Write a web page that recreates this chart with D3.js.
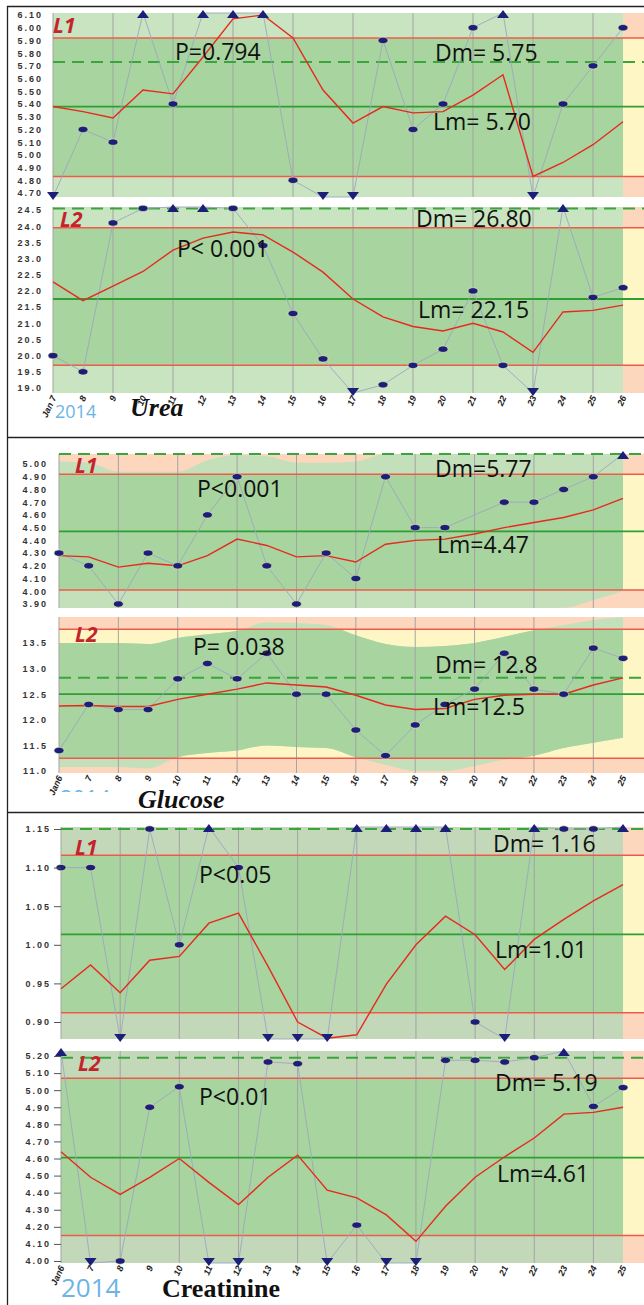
<!DOCTYPE html>
<html>
<head>
<meta charset="utf-8">
<script src="https://cdn.jsdelivr.net/npm/d3@7"></script>
<style>
  body { margin: 0; background: #fff; }
  svg { display: block; }
</style>
</head>
<body>
<div id="chart"></div>
<script>
// ---- data ----
var ureaDays = ['Jan 7', '8', '9', '10', '11', '12', '13', '14', '15', '16',
  '17', '18', '19', '20', '21', '22', '23', '24', '25', '26'];
var glucoseDays = ['Jan6', '7', '8', '9', '10', '11', '12', '13', '14', '15',
  '16', '17', '18', '19', '20', '21', '22', '23', '24', '25'];
var creatDays = glucoseDays.slice();

// Urea L1
var ureaL1Ticks = [6.10, 6.00, 5.90, 5.80, 5.70, 5.60, 5.50, 5.40, 5.30, 5.20, 5.10, 5.00, 4.90, 4.80, 4.70];
var ureaL1Values = [4.6, 5.20, 5.10, 6.3, 5.40, 6.3, 6.3, 6.3, 4.80, 4.6,
  4.6, 5.90, 5.20, 5.40, 6.00, 6.3, 4.6, 5.40, 5.70, 6.00];
var ureaL1Mean = [5.38, 5.34, 5.29, 5.51, 5.48, 5.77, 6.07, 6.10, 5.92, 5.51,
  5.25, 5.38, 5.33, 5.34, 5.47, 5.63, 4.83, 4.94, 5.08, 5.26];
var ureaL1Limits = [5.92, 4.83];
var ureaL1Lines = [5.73, 5.38];   // dashed, solid

// Urea L2
var ureaL2Ticks = [24.5, 24.0, 23.5, 23.0, 22.5, 22.0, 21.5, 21.0, 20.5, 20.0, 19.5, 19.0];
var ureaL2Values = [20.0, 19.5, 24.1, 24.55, 25.0, 25.0, 24.55, 23.4, 21.3, 19.9,
  18.7, 19.1, 19.7, 20.2, 22.0, 19.7, 18.7, 25.0, 21.8, 22.1];
var ureaL2Mean = [22.28, 21.7, 22.15, 22.6, 23.26, 23.63, 23.82, 23.73, 23.2, 22.58,
  21.75, 21.2, 20.9, 20.76, 21.0, 20.73, 20.1, 21.35, 21.4, 21.56];
var ureaL2Limits = [23.95, 19.7];
var ureaL2Lines = [24.55, 21.75];

// Glucose L1
var glucL1Ticks = [5.00, 4.90, 4.80, 4.70, 4.60, 4.50, 4.40, 4.30, 4.20, 4.10, 4.00, 3.90];
var glucL1Values = [4.30, 4.20, 3.90, 4.30, 4.20, 4.60, 4.90, 4.20, 3.90, 4.30,
  4.10, 4.90, 4.50, 4.50, null, 4.70, 4.70, 4.80, 4.90, 5.2];
var glucL1Mean = [4.28, 4.27, 4.19, 4.22, 4.20, 4.28, 4.41, 4.36, 4.27, 4.28,
  4.23, 4.37, 4.40, 4.41, 4.45, 4.50, 4.54, 4.58, 4.64, 4.73];
var glucL1Limits = [4.92, 4.01];
var glucL1Lines = [5.08, 4.47];
var glucL1EnvHigh = [5.02, 5.01, 4.94, 4.94, 4.94, 5.03, 5.07, 5.06, 5.01, 5.01,
  5.02, 5.2, 5.2, 5.2, 5.2, 5.2, 5.2, 5.2, 5.2, 5.2];
var glucL1EnvLow = [3.8, 3.8, 3.8, 3.8, 3.8, 3.8, 3.8, 3.8, 3.8, 3.8,
  3.8, 3.8, 3.8, 3.8, 3.8, 3.8, 3.85, 3.87, 3.93, 4.00];

// Glucose L2
var glucL2Ticks = [13.5, 13.0, 12.5, 12.0, 11.5, 11.0];
var glucL2Values = [11.4, 12.3, 12.2, 12.2, 12.8, 13.1, 12.8, 13.3, 12.5, 12.5,
  11.8, 11.3, 11.9, 12.3, 12.6, 13.3, 12.6, 12.5, 13.4, 13.2];
var glucL2Mean = [12.27, 12.28, 12.26, 12.26, 12.40, 12.50, 12.60, 12.72, 12.68, 12.64,
  12.48, 12.29, 12.20, 12.22, 12.40, 12.48, 12.50, 12.50, 12.68, 12.82];
var glucL2Limits = [13.77, 11.25];
var glucL2Lines = [12.82, 12.5];
var glucL2EnvHigh = [13.50, 13.50, 13.50, 13.48, 13.60, 13.67, 13.74, 13.90, 13.89, 13.85,
  13.65, 13.48, 13.42, 13.44, 13.50, 13.62, 13.75, 13.85, 13.95, 14.05];
var glucL2EnvLow = [11.08, 11.08, 11.08, 11.05, 11.27, 11.35, 11.40, 11.50, 11.47, 11.45,
  11.27, 11.12, 11.00, 11.00, 11.10, 11.22, 11.30, 11.45, 11.55, 11.65];

// Creatinine L1
var creatL1Ticks = [1.15, 1.10, 1.05, 1.00, 0.95, 0.90];
var creatL1Values = [1.10, 1.10, 0.85, 1.15, 1.00, 1.20, 1.10, 0.85, 0.85, 0.85,
  1.20, 1.20, 1.20, 1.20, 0.90, 0.85, 1.20, 1.15, 1.15, 1.20];
var creatL1Mean = [0.943, 0.974, 0.938, 0.98, 0.985, 1.028, 1.041, 0.972, 0.90, 0.879,
  0.8835, 0.949, 1.00, 1.037, 1.013, 0.968, 1.007, 1.033, 1.057, 1.078];
var creatL1Limits = [1.116, 0.912];
var creatL1Lines = [1.15, 1.0135];

// Creatinine L2
var creatL2Ticks = [5.20, 5.10, 5.00, 4.90, 4.80, 4.70, 4.60, 4.50, 4.40, 4.30, 4.20, 4.10, 4.00];
var creatL2Values = [5.30, 3.90, 4.00, 4.90, 5.02, 3.90, 3.90, 5.165, 5.155, 3.90,
  4.21, 3.90, 3.90, 5.175, 5.175, 5.165, 5.19, 5.30, 4.905, 5.015];
var creatL2Mean = [4.64, 4.49, 4.39, 4.49, 4.60, 4.46, 4.33, 4.49, 4.62, 4.415,
  4.37, 4.27, 4.115, 4.32, 4.49, 4.61, 4.72, 4.86, 4.87, 4.90];
var creatL2Limits = [5.07, 4.15];
var creatL2Lines = [5.19, 4.605];

// ---- panels (data + texts) ----
var panels = [
  { tag: 'L1', ticks: ureaL1Ticks, values: ureaL1Values, mean: ureaL1Mean, limits: ureaL1Limits,
    lines: ureaL1Lines, p: 'P=0.794', dm: 'Dm= 5.75', lm: 'Lm= 5.70', fmt: '.2f' },
  { tag: 'L2', ticks: ureaL2Ticks, values: ureaL2Values, mean: ureaL2Mean, limits: ureaL2Limits,
    lines: ureaL2Lines, p: 'P< 0.001', dm: 'Dm= 26.80', lm: 'Lm= 22.15', fmt: '.1f', days: ureaDays },
  { tag: 'L1', ticks: glucL1Ticks, values: glucL1Values, mean: glucL1Mean, limits: glucL1Limits,
    lines: glucL1Lines, envHigh: glucL1EnvHigh, envLow: glucL1EnvLow,
    p: 'P<0.001', dm: 'Dm=5.77', lm: 'Lm=4.47', fmt: '.2f' },
  { tag: 'L2', ticks: glucL2Ticks, values: glucL2Values, mean: glucL2Mean, limits: glucL2Limits,
    lines: glucL2Lines, envHigh: glucL2EnvHigh, envLow: glucL2EnvLow,
    p: 'P= 0.038', dm: 'Dm= 12.8', lm: 'Lm=12.5', fmt: '.1f', days: glucoseDays },
  { tag: 'L1', ticks: creatL1Ticks, values: creatL1Values, mean: creatL1Mean, limits: creatL1Limits,
    lines: creatL1Lines, p: 'P<0.05', dm: 'Dm= 1.16', lm: 'Lm=1.01', fmt: '.2f' },
  { tag: 'L2', ticks: creatL2Ticks, values: creatL2Values, mean: creatL2Mean, limits: creatL2Limits,
    lines: creatL2Lines, p: 'P<0.01', dm: 'Dm= 5.19', lm: 'Lm=4.61', fmt: '.2f', days: creatDays }
];

// ---- layout ----
var W = 644, H = 1305, xEnd = 623;
var layout = [
  { x0: 53, top: 13, bottom: 197, tickTop: 15, tickBot: 193, tickSize: 0, pad: 10, outer: '#c8e4c0',
    tagAt: [53, 33], pAt: [175, 60], dmAt: [435, 61], lmAt: [433, 130] },
  { x0: 53, top: 207, bottom: 393, tickTop: 210, tickBot: 388, tickSize: 0, pad: 10, outer: '#c8e4c0',
    tagAt: [60, 227], pAt: [177, 257], dmAt: [416, 227], lmAt: [418, 318] },
  { x0: 59, top: 454, bottom: 608, tickTop: 464, tickBot: 604, tickSize: 0, pad: 11, outer: '#c3e0bb',
    tagAt: [75, 473], pAt: [197, 497], dmAt: [435, 477], lmAt: [437, 553] },
  { x0: 59, top: 617, bottom: 773, tickTop: 643, tickBot: 771, tickSize: 0, pad: 11, outer: '#c3e0bb',
    tagAt: [75, 642], pAt: [193, 655], dmAt: [435, 673], lmAt: [433, 715] },
  { x0: 61, top: 827, bottom: 1039, tickTop: 829, tickBot: 1022, tickSize: 7, pad: 3, outer: '#c2d8b9',
    tagAt: [75, 855], pAt: [199, 883], dmAt: [493, 852], lmAt: [495, 958] },
  { x0: 61, top: 1051, bottom: 1263, tickTop: 1056, tickBot: 1261, tickSize: 7, pad: 3, outer: '#c2d8b9',
    tagAt: [78, 1071], pAt: [199, 1105], dmAt: [495, 1091], lmAt: [497, 1182] }
];

var svg = d3.select('#chart').append('svg')
  .attr('width', W)
  .attr('height', H)
  .style('font-family', '"Open Sans", sans-serif');

// frame of the figure, with a rule between the analytes
svg.append('path')
  .attr('d', 'M7.5,' + H + 'V6.5H' + W + 'M7.5,437.5H' + W + 'M7.5,812.5H' + W)
  .attr('fill', 'none')
  .attr('stroke', '#222')
  .attr('stroke-width', 1.3);

var defs = svg.append('defs');

panels.forEach(function(p, i) {
  var L = layout[i];
  var g = svg.append('g');

  var x = d3.scaleLinear().domain([0, 19]).range([L.x0, xEnd]);
  // tick scale, then stretch it to the plot edges and clamp
  var yt = d3.scaleLinear()
    .domain([p.ticks[p.ticks.length - 1], p.ticks[0]])
    .range([L.tickBot, L.tickTop]);
  var yMin = yt.invert(L.bottom), yMax = yt.invert(L.top);
  var y = d3.scaleLinear().domain([yMin, yMax]).range([L.bottom, L.top]).clamp(true);

  defs.append('clipPath').attr('id', 'plot' + i)
    .append('rect')
    .attr('x', L.x0).attr('y', L.top)
    .attr('width', W - L.x0).attr('height', L.bottom - L.top);
  defs.append('clipPath').attr('id', 'band' + i)
    .append('rect')
    .attr('x', L.x0).attr('y', y(p.limits[0]))
    .attr('width', W - L.x0).attr('height', y(p.limits[1]) - y(p.limits[0]));

  // background: peach outside the limits, yellow inside
  g.append('rect')
    .attr('x', L.x0).attr('y', L.top)
    .attr('width', W - L.x0).attr('height', L.bottom - L.top)
    .attr('fill', '#fcd7bd');
  g.append('rect')
    .attr('x', L.x0).attr('y', y(p.limits[0]))
    .attr('width', W - L.x0).attr('height', y(p.limits[1]) - y(p.limits[0]))
    .attr('fill', '#fff6c6');

  // green acceptance envelope
  var idx = d3.range(20);
  var env = d3.area()
    .x(function(j) { return x(j); })
    .y0(function(j) { return y(p.envLow ? p.envLow[j] : yMin - 1); })
    .y1(function(j) { return y(p.envHigh ? p.envHigh[j] : yMax + 1); })
    .curve(d3.curveMonotoneX);
  g.append('path').datum(idx)
    .attr('d', env)
    .attr('fill', L.outer)
    .attr('clip-path', 'url(#plot' + i + ')');
  g.append('path').datum(idx)
    .attr('d', env)
    .attr('fill', '#a7d49f')
    .attr('clip-path', 'url(#band' + i + ')');

  // vertical grid every second day
  g.selectAll('.grid').data(d3.range(0, 20, 2)).enter()
    .append('line')
    .attr('x1', function(j) { return x(j); })
    .attr('x2', function(j) { return x(j); })
    .attr('y1', L.top).attr('y2', L.bottom)
    .attr('stroke', '#a3a3a3')
    .attr('stroke-width', 1);

  // limit lines
  g.selectAll('.lim').data(p.limits).enter()
    .append('line')
    .attr('x1', L.x0).attr('x2', W)
    .attr('y1', function(d) { return y(d); })
    .attr('y2', function(d) { return y(d); })
    .attr('stroke', '#ef5b4b')
    .attr('stroke-width', 1.5);
  g.append('line')
    .attr('x1', L.x0).attr('x2', W)
    .attr('y1', y(p.lines[0])).attr('y2', y(p.lines[0]))
    .attr('stroke', '#3aa53c')
    .attr('stroke-width', 2)
    .attr('stroke-dasharray', '12,7');
  g.append('line')
    .attr('x1', L.x0).attr('x2', W)
    .attr('y1', y(p.lines[1])).attr('y2', y(p.lines[1]))
    .attr('stroke', '#2f9e33')
    .attr('stroke-width', 1.8);

  // connector through the daily results
  var pts = p.values.map(function(v, j) { return { j: j, v: v }; })
    .filter(function(d) { return d.v !== null; });
  g.append('path').datum(pts)
    .attr('d', d3.line()
      .x(function(d) { return x(d.j); })
      .y(function(d) { return y(d.v); }))
    .attr('fill', 'none')
    .attr('stroke', '#9ea6bf')
    .attr('stroke-width', 0.9);

  // running mean
  g.append('path').datum(p.mean)
    .attr('d', d3.line()
      .x(function(d, j) { return x(j); })
      .y(function(d) { return y(d); }))
    .attr('fill', 'none')
    .attr('stroke', '#e8291f')
    .attr('stroke-width', 1.4);

  // markers: ellipse in range, triangle when off scale
  var inside = pts.filter(function(d) { return d.v <= yMax && d.v >= yMin; });
  var above = pts.filter(function(d) { return d.v > yMax; });
  var below = pts.filter(function(d) { return d.v < yMin; });
  g.selectAll('.dot').data(inside).enter()
    .append('ellipse')
    .attr('cx', function(d) { return x(d.j); })
    .attr('cy', function(d) { return y(d.v); })
    .attr('rx', 5).attr('ry', 3.2)
    .attr('fill', '#1c1f78')
    .attr('stroke', '#f3efb5')
    .attr('stroke-width', 0.6);
  g.selectAll('.up').data(above).enter()
    .append('path')
    .attr('d', 'M-6,3L6,3L0,-5Z')
    .attr('transform', function(d) { return 'translate(' + x(d.j) + ',' + (y(d.v) + 2) + ')'; })
    .attr('fill', '#1c1f78');
  g.selectAll('.down').data(below).enter()
    .append('path')
    .attr('d', 'M-6,-3L6,-3L0,5Z')
    .attr('transform', function(d) { return 'translate(' + x(d.j) + ',' + (y(d.v) - 2) + ')'; })
    .attr('fill', '#1c1f78');

  // y axis
  var ya = g.append('g')
    .attr('transform', 'translate(' + L.x0 + ',0)')
    .call(d3.axisLeft(yt).tickValues(p.ticks).tickFormat(d3.format(p.fmt))
      .tickSize(L.tickSize).tickPadding(L.pad));
  ya.select('.domain').remove();
  ya.selectAll('line').attr('stroke', '#555');
  ya.selectAll('text')
    .style('font-family', '"Liberation Sans", Arial, sans-serif')
    .style('font-weight', 'bold')
    .style('font-size', '9px')
    .style('letter-spacing', '2px')
    .attr('fill', '#333');

  // x axis labels on the lower panel of each analyte
  if (p.days) {
    var xa = g.append('g')
      .attr('transform', 'translate(0,' + L.bottom + ')')
      .call(d3.axisBottom(x).tickValues(idx)
        .tickFormat(function(j) { return p.days[j]; }).tickSize(0));
    xa.select('.domain').remove();
    xa.selectAll('text')
      .attr('transform', 'rotate(-65)')
      .attr('text-anchor', 'end')
      .attr('dx', '-0.3em')
      .attr('dy', '0.2em')
      .style('font-family', '"Liberation Sans", Arial, sans-serif')
      .style('font-weight', 'bold')
      .style('font-style', 'italic')
      .style('font-size', '9px')
      .attr('fill', '#222');
  }

  // annotations
  g.append('text')
    .attr('x', L.tagAt[0]).attr('y', L.tagAt[1])
    .style('font-size', '21px')
    .style('font-weight', 'bold')
    .style('font-style', 'italic')
    .attr('fill', '#c4232b')
    .text(p.tag);
  [[p.p, L.pAt], [p.dm, L.dmAt], [p.lm, L.lmAt]].forEach(function(t) {
    g.append('text')
      .attr('x', t[1][0]).attr('y', t[1][1])
      .style('font-size', '23px')
      .attr('fill', '#111')
      .text(t[0]);
  });
});

// analyte captions
var blue = '#6cb4e6';
svg.append('text').attr('x', 55).attr('y', 418)
  .style('font-size', '18px').attr('fill', blue).text('2014');
svg.append('text').attr('x', 130).attr('y', 416)
  .style('font-family', '"Liberation Serif", serif')
  .style('font-weight', 'bold').style('font-style', 'italic')
  .style('font-size', '26px').attr('fill', '#111').text('Urea');

defs.append('clipPath').attr('id', 'cut2014')
  .append('rect').attr('x', 55).attr('y', 780).attr('width', 80).attr('height', 12);
svg.append('text').attr('x', 60).attr('y', 806)
  .attr('clip-path', 'url(#cut2014)')
  .style('font-size', '22px').attr('fill', blue).text('2014');
svg.append('text').attr('x', 138).attr('y', 808)
  .style('font-family', '"Liberation Serif", serif')
  .style('font-weight', 'bold').style('font-style', 'italic')
  .style('font-size', '26px').attr('fill', '#111').text('Glucose');

svg.append('text').attr('x', 61).attr('y', 1297)
  .style('font-size', '26px').attr('fill', blue).text('2014');
svg.append('text').attr('x', 162).attr('y', 1297)
  .style('font-family', '"Liberation Serif", serif')
  .style('font-weight', 'bold')
  .style('font-size', '26px').attr('fill', '#111').text('Creatinine');
</script>
</body>
</html>
